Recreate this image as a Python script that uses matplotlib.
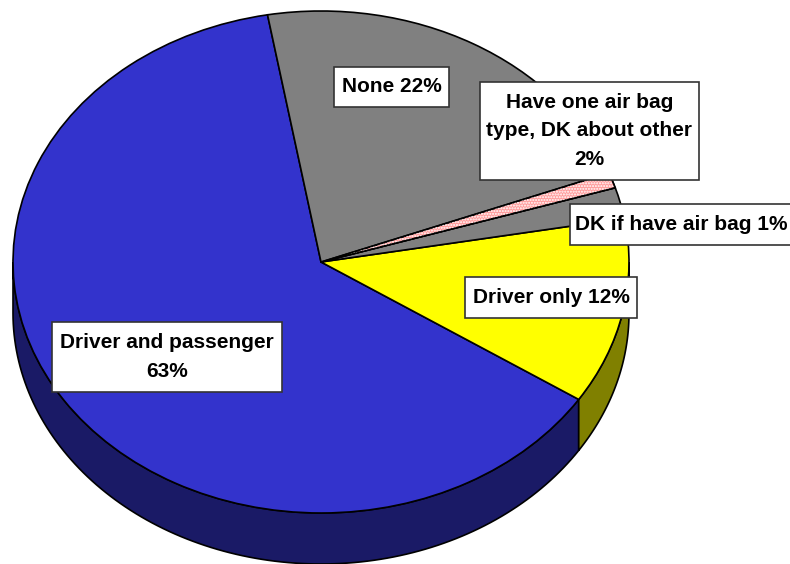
import numpy as np
import matplotlib
matplotlib.use('Agg')
import matplotlib.pyplot as plt
from matplotlib.patches import Polygon, Rectangle, Wedge

# slices, counter clockwise from the start angle
shares = [63, 12, 2, 1, 22]
colors = ['#3333CC', '#FFFF00', '#808080', '#FF9C9C', '#808080']
side_colors = ['#1A1A66', '#808000', '#404040', '#804E4E', '#404040']

labels = ['None 22%', 'Have one air bag\ntype, DK about other\n2%', 'DK if have air bag 1%',
          'Driver only 12%', 'Driver and passenger\n63%']
# label boxes in pixels: left, top, right, bottom
boxes = [(334, 67, 449, 107), (480, 82, 699, 180), (570, 204, 793, 245),
         (465, 277, 637, 318), (52, 322, 282, 392)]

W, H = 790, 564
cx, cy = 321, 262
rx, ry = 308, 251
depth = 51 / ry
start = 100

fig = plt.figure(figsize=(W / 100, H / 100), dpi=100)
ax = fig.add_axes([0, 0, 1, 1])

# side wall of the pie, only the front half shows
edges = start + np.cumsum([0] + shares) * 3.6
for i in range(len(shares)):
    a = max(edges[i], 180)
    b = min(edges[i + 1], 360)
    if a >= b:
        continue
    t = np.radians(np.linspace(a, b, 120))
    x = np.cos(t)
    y = np.sin(t)
    pts = np.vstack([np.column_stack([x, y]), np.column_stack([x[::-1], y[::-1] - depth])])
    ax.add_patch(Polygon(pts, closed=True, facecolor=side_colors[i], edgecolor='black', linewidth=1.2))

wedges, _ = ax.pie(shares, colors=colors, startangle=start, counterclock=True, radius=1,
                   wedgeprops=dict(edgecolor='black', linewidth=1.2))

# pink slice is a dither of white dots in the original
ax.add_patch(Wedge((0, 0), 1, edges[3] - 360, edges[4] - 360, facecolor='none',
                   edgecolor='white', hatch='......', linewidth=0))
ax.add_patch(Wedge((0, 0), 1, edges[3] - 360, edges[4] - 360, facecolor='none',
                   edgecolor='black', linewidth=1.0))

ax.set_aspect('auto')
ax.set_xlim(-cx / rx, (W - cx) / rx)
ax.set_ylim(-(H - cy) / ry, cy / ry)
ax.axis('off')

# overlay in pixels for the label boxes
over = fig.add_axes([0, 0, 1, 1])
over.set_xlim(0, W)
over.set_ylim(H, 0)
over.axis('off')
over.patch.set_alpha(0)
for text, (l, t, r, b) in zip(labels, boxes):
    over.add_patch(Rectangle((l, t), r - l, b - t, facecolor='white', edgecolor='#333333',
                             linewidth=1.2, clip_on=False))
    over.text((l + r) / 2, (t + b) / 2, text, ha='center', va='center', family='Liberation Sans',
              fontweight='bold', fontsize=15.0, color='black', linespacing=1.62)

fig.savefig('out.png', dpi=100)
